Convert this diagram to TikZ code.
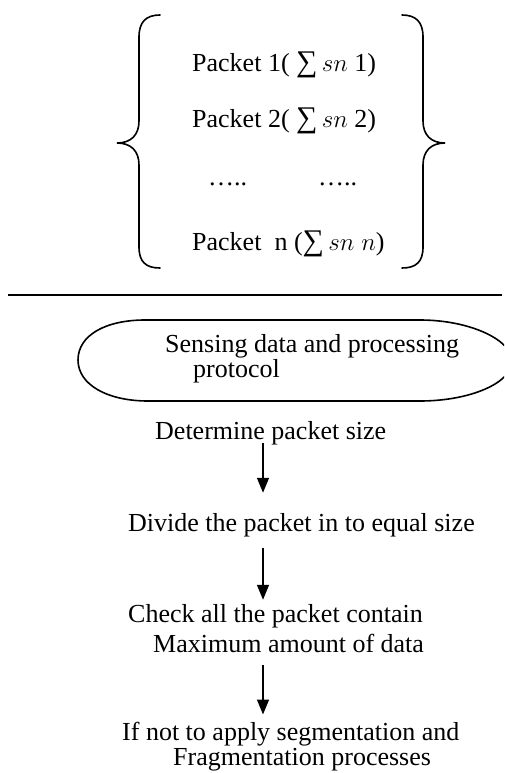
\documentclass[tikz,border=0pt]{standalone}
\usepackage{fontspec}
\setmainfont{Liberation Serif}
\usetikzlibrary{arrows.meta}
\newcommand{\sumsym}{{\fontsize{30}{30}\selectfont ∑}}
\begin{document}
\begin{tikzpicture}[x=1pt,y=-1pt,
  txt/.style={inner sep=0pt,anchor=base west,font=\fontsize{26}{30}\selectfont},
  ln/.style={line width=1.6pt,line cap=round},
  arr/.style={line width=1.5pt,-{Triangle[width=12pt,length=15pt]}}]
\useasboundingbox (0,0) rectangle (504,773);
\clip (0,0) rectangle (504,773);
% braces
\draw[ln] (160,15) .. controls (146,15) and (139,22) .. (139,37) -- (139,121)
  .. controls (139,135) and (131,143) .. (117,143)
  .. controls (131,143) and (139,151) .. (139,165) -- (139,247)
  .. controls (139,262) and (146,268) .. (160,268);
\draw[ln] (402,15) .. controls (416,15) and (423,22) .. (423,37) -- (423,121)
  .. controls (423,135) and (431,143) .. (445,143)
  .. controls (431,143) and (423,151) .. (423,165) -- (423,247)
  .. controls (423,262) and (416,268) .. (402,268);
% packet texts
\node[txt] (p1) at (192,72) {Packet 1( \sumsym\,$sn$ 1)};
\node[txt] (p2) at (192,128) {Packet 2( \sumsym\,$sn$ 2)};
\node[txt] (d1) at (208,185) {…..};
\node[txt] (d2) at (318,185) {…..};
\node[txt] (pn) at (192,250) {Packet\ \ n (\sumsym\,$sn\;n$)};
% separator
\draw[line width=2pt] (8,295) -- (502,295);
% terminator shape
\draw[ln] (145,320) -- (420,320) .. controls (470,320) and (512,340) .. (512,361)
  .. controls (512,383) and (470,401) .. (420,401) -- (148,401)
  .. controls (108,401) and (78,385) .. (78,360)
  .. controls (78,335) and (106,320) .. (145,320);
\node[txt] (s1) at (165,352) {Sensing data and processing};
\node[txt] (s2) at (193,377) {protocol};
% steps
\node[txt] (det) at (155,439) {Determine packet size};
\node[txt] (div) at (128,531) {Divide the packet in to equal size};
\node[txt] (chk) at (128,622) {Check all the packet contain};
\node[txt] (max) at (153,652) {Maximum amount of data};
\node[txt] (ifn) at (122,740) {If not to apply segmentation and};
\node[txt] (frg) at (173,765) {Fragmentation processes};
\coordinate (ax) at (263,0);
\draw[arr] ([yshift=-4pt]det.base -| ax) -- ([yshift=20pt]div.north -| ax);
\draw[arr] ([yshift=-17pt]div.base -| ax) -- ([yshift=4pt]chk.north -| ax);
\draw[arr] ([yshift=-13pt]max.base -| ax) -- ([yshift=7pt]ifn.north -| ax);
\end{tikzpicture}
\end{document}
